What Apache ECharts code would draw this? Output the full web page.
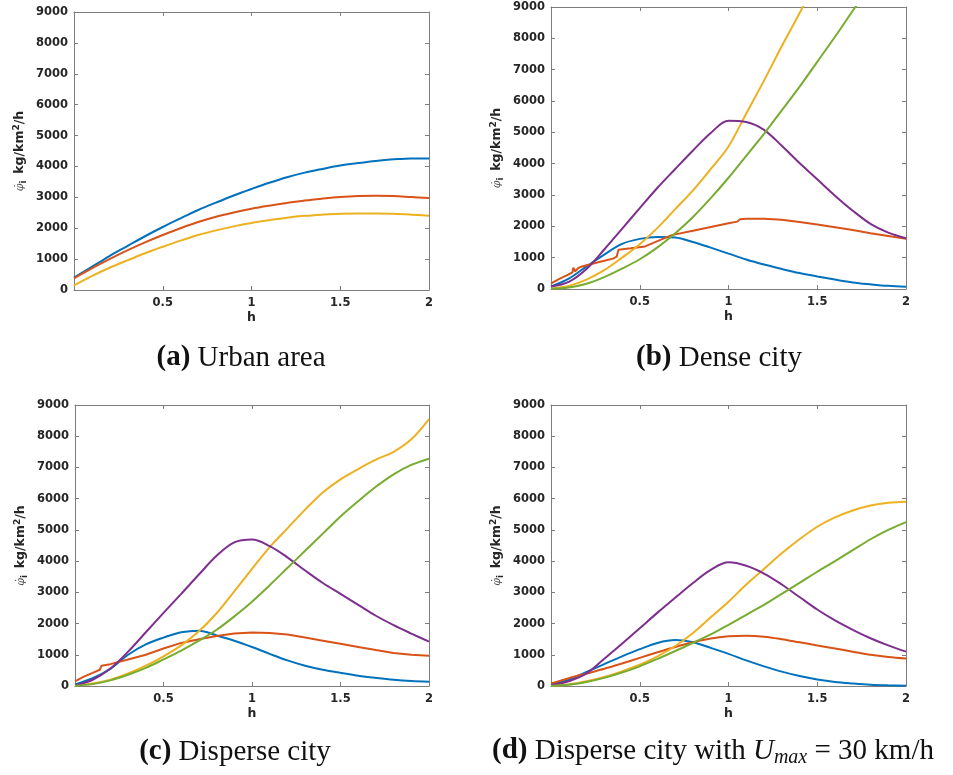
<!DOCTYPE html>
<html>
<head>
<meta charset="utf-8">
<script src="https://cdn.jsdelivr.net/npm/echarts@6.0.0/dist/echarts.min.js"></script>
<style>
html,body{margin:0;padding:0;background:#fff;}
#chart{width:953px;height:775px;}
</style>
</head>
<body>
<div id="chart"></div>
<script>
// ---------- data ----------
const xs = [0,0.1,0.2,0.3,0.4,0.5,0.6,0.7,0.8,0.9,1.0,1.1,1.2,1.3,1.4,1.5,1.6,1.7,1.8,1.9,2.0];
const xTickLabels = ['', '0.5', '1', '1.5', '2'];
const yTickLabels = ['0','1000','2000','3000','4000','5000','6000','7000','8000','9000'];

// (a) Urban area
const aBlue   = [400,750,1100,1420,1740,2040,2320,2590,2830,3060,3270,3470,3650,3800,3920,4030,4110,4180,4230,4260,4260];
const aRed    = [380,700,1000,1280,1540,1780,2000,2200,2370,2510,2630,2730,2820,2900,2960,3010,3040,3050,3040,3010,2980];
const aYellow = [150,450,720,960,1190,1400,1600,1780,1930,2060,2170,2260,2340,2400,2440,2470,2480,2480,2470,2440,2400];

// (b) Dense city
const bBlue   = [80,330,720,1100,1440,1600,1660,1640,1500,1320,1130,940,780,640,510,400,300,210,150,100,70];
const bRedX   = [0,0.05,0.1,0.12,0.126,0.135,0.154,0.175,0.2,0.25,0.3,0.35,0.37,0.38,0.45,0.53,0.6,0.68,0.8,0.9,1.0,1.05,1.065,1.1,1.2,1.3,1.4,1.5,1.6,1.7,1.8,1.9,2.0];
const bRed    = [180,330,470,520,680,560,670,720,760,830,900,970,1030,1250,1300,1360,1530,1720,1860,1980,2100,2150,2230,2240,2240,2210,2140,2060,1970,1880,1780,1690,1600];
const bYellowX= [0,0.1,0.2,0.3,0.4,0.5,0.6,0.7,0.8,0.9,1.0,1.1,1.2,1.3,1.4,1.5];
const bYellow = [20,100,300,600,1000,1430,1950,2550,3150,3830,4550,5600,6650,7750,8800,9900];
const bPurple = [80,230,640,1260,1920,2580,3230,3830,4420,4980,5370,5330,5080,4570,4020,3500,2980,2500,2080,1800,1620];
const bGreenX = [0,0.1,0.2,0.3,0.4,0.5,0.6,0.7,0.8,0.9,1.0,1.1,1.2,1.3,1.4,1.5,1.6,1.7,1.8];
const bGreen  = [10,50,170,380,650,950,1330,1780,2300,2900,3550,4250,4950,5700,6450,7250,8050,8880,9700];

// (c) Disperse city
const cBlue   = [50,250,550,1000,1330,1550,1720,1770,1620,1450,1250,1030,820,650,520,420,330,260,200,160,140];
const cRedX   = [0,0.05,0.1,0.14,0.15,0.2,0.3,0.4,0.5,0.6,0.7,0.8,0.9,1.0,1.1,1.2,1.3,1.4,1.5,1.6,1.7,1.8,1.9,2.0];
const cRed    = [150,300,420,520,650,700,850,1000,1200,1380,1500,1600,1680,1710,1700,1650,1550,1450,1350,1250,1150,1060,1000,970];
const cYellow = [20,80,200,400,650,950,1300,1750,2330,3030,3750,4450,5050,5650,6200,6620,6950,7250,7500,7900,8550];
const cPurple = [20,200,560,1100,1720,2340,2950,3570,4170,4600,4690,4480,4120,3700,3300,2950,2600,2250,1950,1680,1420];
const cGreen  = [10,60,180,360,580,850,1130,1450,1800,2230,2700,3230,3780,4330,4880,5430,5920,6380,6780,7080,7280];

// (d) Disperse city with Umax = 30 km/h
const dBlue   = [40,200,450,700,950,1180,1380,1470,1400,1220,1030,820,630,460,320,210,130,80,40,20,10];
const dRed    = [80,250,400,550,720,900,1080,1250,1400,1520,1590,1610,1580,1500,1400,1300,1200,1100,1000,930,880];
const dYellow = [10,50,150,290,470,680,950,1280,1700,2200,2700,3250,3750,4250,4700,5100,5400,5620,5780,5870,5900];
const dPurple = [30,150,400,870,1350,1850,2350,2830,3300,3720,3960,3850,3600,3250,2850,2450,2100,1800,1530,1300,1100];
const dGreen  = [5,40,130,260,430,630,870,1120,1380,1650,1960,2280,2600,2950,3300,3660,4000,4350,4700,5000,5250];

// ---------- styles ----------
const COLORS = {blue:'#0072BD', red:'#D95319', yellow:'#EDB120', purple:'#7E2F8E', green:'#77AC30'};
const AXIS_COLOR = '#7d7d7d';
const TEXT_COLOR = '#262626';
const SANS = 'DejaVu Sans';
const SERIF = 'Liberation Serif';

const panels = [
  {grid:{left:74, top:12, width:355, height:278},
   series:[['blue',xs,aBlue,true],['red',xs,aRed,true],['yellow',xs,aYellow,true]]},
  {grid:{left:551, top:7, width:355, height:282},
   series:[['blue',xs,bBlue,true],['red',bRedX,bRed,false],['yellow',bYellowX,bYellow,true],['purple',xs,bPurple,true],['green',bGreenX,bGreen,true]]},
  {grid:{left:75, top:405, width:354, height:281},
   series:[['blue',xs,cBlue,true],['red',cRedX,cRed,false],['yellow',xs,cYellow,true],['purple',xs,cPurple,true],['green',xs,cGreen,true]]},
  {grid:{left:551, top:405, width:355, height:281},
   series:[['blue',xs,dBlue,true],['red',xs,dRed,true],['yellow',xs,dYellow,true],['purple',xs,dPurple,true],['green',xs,dGreen,true]]}
];

const grids = [], xAxes = [], yAxes = [], series = [];
const tick = {show:true, inside:true, length:4, lineStyle:{color:AXIS_COLOR, width:1}};
const line = {show:true, onZero:false, lineStyle:{color:AXIS_COLOR, width:1}};

panels.forEach((p, i) => {
  grids.push(p.grid);
  const xBase = {type:'value', gridIndex:i, min:0, max:2, interval:0.5, splitLine:{show:false}, axisLine:line, axisTick:tick};
  xAxes.push(Object.assign({}, xBase, {
    position:'bottom',
    axisLabel:{show:true, margin:7, color:TEXT_COLOR, fontFamily:SANS, fontWeight:'bold', fontSize:11.5,
      formatter:(v)=>{ const k = Math.round(v/0.5); return xTickLabels[k] || ''; }},
    name:'h', nameLocation:'middle', nameGap:21,
    nameTextStyle:{color:TEXT_COLOR, fontFamily:SANS, fontWeight:'bold', fontSize:12.5}
  }));
  xAxes.push(Object.assign({}, xBase, {position:'top', axisLabel:{show:false}}));
  const yBase = {type:'value', gridIndex:i, min:0, max:9000, interval:1000, splitLine:{show:false}, axisLine:line, axisTick:tick};
  yAxes.push(Object.assign({}, yBase, {
    position:'left',
    axisLabel:{show:true, margin:6, color:TEXT_COLOR, fontFamily:SANS, fontWeight:'bold', fontSize:11.5,
      formatter:(v)=> yTickLabels[Math.round(v/1000)] || ''},
    name:'{phi|\u03C6\u0307}{sub|i}  {b|kg/km}{sup|2}{b|/h}',
    nameLocation:'middle', nameRotate:90, nameGap:46,
    nameTextStyle:{
      color:TEXT_COLOR,
      rich:{
        phi:{fontFamily:'DejaVu Serif', fontStyle:'italic', fontSize:11, color:'#555', lineHeight:16},
        sub:{fontFamily:SANS, fontWeight:'bold', fontSize:9, lineHeight:6, verticalAlign:'bottom', color:TEXT_COLOR},
        b:{fontFamily:SANS, fontWeight:'bold', fontSize:12.5, lineHeight:16, color:TEXT_COLOR},
        sup:{fontFamily:SANS, fontWeight:'bold', fontSize:9, lineHeight:6, verticalAlign:'top', color:TEXT_COLOR}
      }
    }
  }));
  yAxes.push(Object.assign({}, yBase, {position:'right', axisLabel:{show:false}}));

  p.series.forEach(([c, xArr, yArr, sm]) => {
    series.push({
      type:'line', xAxisIndex:2*i, yAxisIndex:2*i,
      data: xArr.map((x, k) => [x, yArr[k]]),
      smooth: sm ? 0.35 : false, showSymbol:false, symbol:'none', clip:true,
      lineStyle:{color:COLORS[c], width:2}, itemStyle:{color:COLORS[c]}
    });
  });
});

const FS = 29;
const capRich = {
  b:{fontFamily:SERIF, fontWeight:'bold', fontSize:FS, lineHeight:34, fill:'#111'},
  r:{fontFamily:SERIF, fontSize:FS, lineHeight:34, fill:'#111'},
  i:{fontFamily:SERIF, fontStyle:'italic', fontSize:FS, lineHeight:34, fill:'#111'},
  s:{fontFamily:SERIF, fontStyle:'italic', fontSize:20, lineHeight:10, verticalAlign:'bottom', fill:'#111'}
};
function caption(x, y, text){
  return {type:'text', x:x, y:y, style:{text:text, rich:capRich, align:'center', verticalAlign:'middle', fill:'#111', font:FS + 'px "Liberation Serif"'}};
}

const option = {
  animation:false,
  backgroundColor:'#ffffff',
  grid:grids, xAxis:xAxes, yAxis:yAxes, series:series,
  graphic:[
    caption(241, 358, '{b|(a)}{r| Urban area}'),
    caption(719, 358, '{b|(b)}{r| Dense city}'),
    caption(235, 752, '{b|(c)}{r| Disperse city}'),
    caption(713, 751, '{b|(d)}{r| Disperse city with }{i|U}{s|max}{r| = 30 km/h}')
  ]
};
const chart = echarts.init(document.getElementById('chart'), null, {renderer:'canvas'});
chart.setOption(option);
</script>
</body>
</html>
